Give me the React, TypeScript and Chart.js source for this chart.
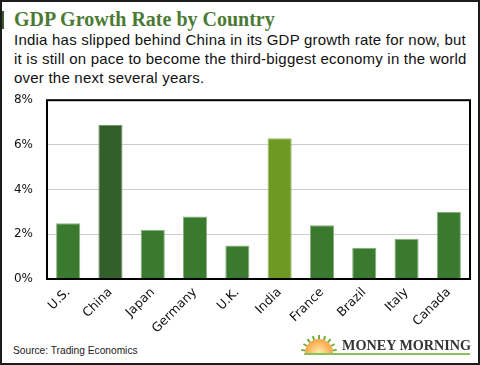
import React, { useEffect, useRef } from "react";
import { Chart, registerables } from "chart.js";

Chart.register(...registerables);

const categories = ["U.S.", "China", "Japan", "Germany", "U.K.", "India", "France", "Brazil", "Italy", "Canada"];
const growth = [2.5, 6.9, 2.2, 2.8, 1.5, 6.3, 2.4, 1.4, 1.8, 3.0];
const yTickMin = 0;
const yTickMax = 8;
const yTickStep = 2;

const normalColor = "#3a7a2e";
const chinaColor = "#33602a";
const indiaColor = "#6e9a23";
const barColors = categories.map((c) => (c === "China" ? chinaColor : c === "India" ? indiaColor : normalColor));
const barBorders = categories.map((c) => (c === "China" ? "#6f8d66" : c === "India" ? "#9cbc68" : "#88b07e"));

const framePlugin = {
  id: "frame",
  afterDraw(chart: any) {
    const { ctx, chartArea } = chart;
    ctx.save();
    ctx.strokeStyle = "#000";
    ctx.lineWidth = 2;
    ctx.strokeRect(chartArea.left, chartArea.top, chartArea.right - chartArea.left, chartArea.bottom - chartArea.top);
    ctx.restore();
  },
};

function ChartCanvas() {
  const ref = useRef<HTMLCanvasElement>(null);
  useEffect(() => {
    if (!ref.current) return;
    const chart = new Chart(ref.current, {
      type: "bar",
      data: {
        labels: categories,
        datasets: [
          {
            data: growth,
            backgroundColor: barColors,
            borderColor: barBorders,
            borderWidth: { top: 1, left: 1, right: 1, bottom: 0 },
            barPercentage: 0.57,
            categoryPercentage: 1,
          },
        ],
      },
      options: {
        responsive: false,
        animation: false,
        layout: { padding: { top: 13, right: 10, left: 0, bottom: 0 } },
        plugins: { legend: { display: false }, tooltip: { enabled: false } },
        scales: {
          x: {
            grid: { display: false, drawTicks: false },
            border: { display: false },
            ticks: {
              minRotation: 45,
              maxRotation: 45,
              padding: 6,
              color: "#111",
              font: { family: "DejaVu Sans", size: 12.5 },
            },
            afterFit: (s: any) => {
              s.height = 60;
            },
          },
          y: {
            min: yTickMin,
            max: yTickMax,
            grid: { color: "#cccccc", lineWidth: 1, drawTicks: false },
            border: { display: false },
            ticks: {
              stepSize: yTickStep,
              padding: 14,
              color: "#111",
              font: { family: "DejaVu Sans", size: 12 },
              callback: (v: any) => v + "%",
            },
            afterFit: (s: any) => {
              s.width = 47;
            },
          },
        },
      },
      plugins: [framePlugin],
    });
    return () => chart.destroy();
  }, []);
  return <canvas ref={ref} width={480} height={260} style={{ position: "absolute", left: -2, top: 77, width: 480, height: 260 }} />;
}

const rays = [-80, -60, -40, -20, 0, 20, 40, 60, 80];

export default function App() {
  return (
    <div
      style={{
        position: "fixed",
        left: 0,
        top: 0,
        width: 480,
        height: 365,
        boxSizing: "border-box",
        border: "2px solid #1c1c1c",
        background: "#fff",
        overflow: "hidden",
      }}
    >
      <div style={{ position: "absolute", left: 0, top: 0, width: 480, height: 365 }}>
        <div style={{ position: "absolute", left: 0, top: 9, width: 2, height: 18, background: "#3e5a2a" }} />
        <div
          style={{
            position: "absolute",
            left: 12,
            top: 6,
            fontFamily: "'Liberation Serif', serif",
            fontWeight: "bold",
            fontSize: 20,
            color: "#4b7a34",
            whiteSpace: "nowrap",
          }}
        >
          GDP Growth Rate by Country
        </div>
        <div
          style={{
            position: "absolute",
            left: 12,
            top: 28,
            width: 470,
            fontFamily: "'Liberation Sans', Arial, sans-serif",
            fontSize: 15,
            letterSpacing: "0.22px",
            lineHeight: "19px",
            color: "#111",
            whiteSpace: "nowrap",
          }}
        >
          India has slipped behind China in its GDP growth rate for now, but
          <br />
          it is still on pace to become the third-biggest economy in the world
          <br />
          over the next several years.
        </div>
        <ChartCanvas />
        <div
          style={{
            position: "absolute",
            left: 11,
            top: 343,
            fontFamily: "'Liberation Sans', Arial, sans-serif",
            fontSize: 10.2,
            color: "#222",
            whiteSpace: "nowrap",
          }}
        >
          Source: Trading Economics
        </div>
        <div style={{ position: "absolute", left: 300, top: 333, width: 34, height: 18 }}>
          {rays.map((a, i) => (
            <div
              key={i}
              style={{
                position: "absolute",
                left: 16,
                top: 18,
                width: 2,
                height: 4,
                background: "#6fae3a",
                transformOrigin: "1px 18px",
                transform: `translate(0px, -18px) rotate(${a}deg)`,
              }}
            />
          ))}
          <div
            style={{
              position: "absolute",
              left: 3,
              top: 4,
              width: 28,
              height: 14,
              borderRadius: "14px 14px 0 0",
              background: "radial-gradient(circle at 50% 100%, #fff0b0 0%, #f9b45a 55%, #f08a34 100%)",
            }}
          />
        </div>
        <div
          style={{
            position: "absolute",
            left: 340,
            top: 335,
            fontFamily: "'Liberation Serif', serif",
            fontWeight: "bold",
            fontSize: 14.2,
            lineHeight: "16px",
            color: "#333",
            whiteSpace: "nowrap",
          }}
        >
          MONEY MORNING
        </div>
        <div style={{ position: "absolute", left: 302, top: 351, width: 166, height: 2, background: "#8dc05a" }} />
      </div>
    </div>
  );
}
